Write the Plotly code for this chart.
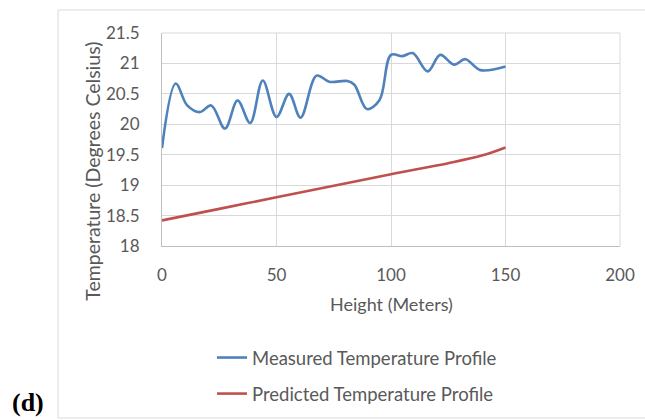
import plotly.graph_objects as go

# Measured profile (height in m, temperature in °C)
measured_height = [0, 6, 11, 16.5, 21.5, 27.5, 33, 38.5, 44, 50, 55.5, 60.5, 67.5, 73,
                   81, 84, 89.5, 95, 100, 105, 109.5, 116, 121.5, 127.5, 132.5, 139, 150]
measured_temp = [19.61, 20.67, 20.31, 20.20, 20.31, 19.93, 20.39, 20.02, 20.72, 20.12,
                 20.50, 20.11, 20.80, 20.70, 20.71, 20.65, 20.25, 20.40, 21.14, 21.12,
                 21.17, 20.87, 21.14, 20.98, 21.07, 20.89, 20.95]

# Predicted profile
predicted_height = [0, 25, 50, 75, 100, 125, 140, 150]
predicted_temp = [18.42, 18.61, 18.80, 18.99, 19.18, 19.36, 19.49, 19.62]

x_ticks = [0, 50, 100, 150, 200]
y_ticks = [18, 18.5, 19, 19.5, 20, 20.5, 21, 21.5]
y_tick_text = ["18", "18.5", "19", "19.5", "20", "20.5", "21", "21.5"]

FONT = "Lato, 'Open Sans', sans-serif"
GREY_TEXT = "#595959"
GRID = "#d9d9d9"

# plot area in pixels
L, R, T, B = 162, 620, 33, 246
PW, PH = R - L, B - T


def px(x):
    return (x - L) / PW


def py(y):
    return (B - y) / PH


fig = go.Figure()
fig.add_trace(go.Scatter(
    x=measured_height, y=measured_temp, mode="lines",
    line=dict(color="#4f81bd", width=2.6, shape="spline", smoothing=1.0),
    name="Measured Temperature Profile", legendgroup="m",
))
fig.add_trace(go.Scatter(
    x=predicted_height, y=predicted_temp, mode="lines",
    line=dict(color="#c0504d", width=2.6, shape="spline", smoothing=1.0),
    name="Predicted Temperature Profile", legendgroup="p",
))

fig.update_layout(
    width=645, height=420,
    margin=dict(l=L, r=645 - R, t=T, b=420 - B, autoexpand=False),
    paper_bgcolor="white", plot_bgcolor="white",
    font=dict(family=FONT, color=GREY_TEXT, size=17),
    showlegend=True,
    legend=dict(
        x=px(212), y=py(339), xanchor="left", yanchor="top",
        font=dict(family=FONT, size=18.5, color=GREY_TEXT),
        tracegroupgap=9, bgcolor="rgba(0,0,0,0)",
    ),
    xaxis=dict(
        range=[0, 200], tickvals=x_ticks, showgrid=True, gridcolor=GRID, gridwidth=1,
        zeroline=False, showline=True, linecolor="#bfbfbf", linewidth=1,
        ticks="", ticklabelstandoff=14, tickfont=dict(size=17),
    ),
    yaxis=dict(
        range=[18, 21.5], tickvals=y_ticks, ticktext=y_tick_text,
        showgrid=True, gridcolor=GRID, gridwidth=1,
        zeroline=False, showline=True, linecolor="#bfbfbf", linewidth=1,
        ticks="", ticklabelstandoff=18, tickfont=dict(size=17),
    ),
    shapes=[
        # chart frame
        dict(type="rect", xref="paper", yref="paper",
             x0=px(58), x1=px(660), y0=py(418), y1=py(10),
             line=dict(color=GRID, width=1), fillcolor="rgba(0,0,0,0)", layer="below"),
        # right and top edges of plot area
        dict(type="line", xref="paper", yref="paper", x0=1, x1=1, y0=0, y1=1,
             line=dict(color=GRID, width=1)),
        dict(type="line", xref="paper", yref="paper", x0=0, x1=1, y0=1, y1=1,
             line=dict(color=GRID, width=1)),
    ],
    annotations=[
        dict(text="Height (Meters)", xref="paper", yref="paper",
             x=px(391.7), y=py(304), xanchor="center", yanchor="middle", showarrow=False,
             font=dict(family=FONT, size=18, color=GREY_TEXT)),
        dict(text="Temperature (Degrees Celsius)", textangle=-90,
             xref="paper", yref="paper", x=px(91.7), y=py(171),
             xanchor="center", yanchor="middle", showarrow=False,
             font=dict(family=FONT, size=19.5, color=GREY_TEXT)),
        dict(text="<b>(d)</b>", xref="paper", yref="paper",
             x=px(10), y=py(419), xanchor="left", yanchor="bottom",
             showarrow=False,
             font=dict(family="'Liberation Serif', 'Times New Roman', serif", size=26, color="black")),
    ],
)

fig.write_html("out.html")
